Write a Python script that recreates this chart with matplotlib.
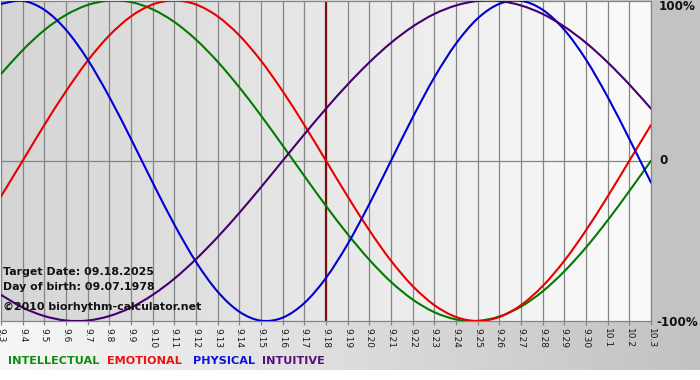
import numpy as np
import matplotlib
matplotlib.use("Agg")
import matplotlib.pyplot as plt
from matplotlib.colors import LinearSegmentedColormap
from matplotlib.path import Path
from matplotlib.patches import PathPatch

# ---- data ----
dates = ["9.3", "9.4", "9.5", "9.6", "9.7", "9.8", "9.9", "9.10", "9.11", "9.12",
         "9.13", "9.14", "9.15", "9.16", "9.17", "9.18", "9.19", "9.20", "9.21",
         "9.22", "9.23", "9.24", "9.25", "9.26", "9.27", "9.28", "9.29", "9.30",
         "10.1", "10.2", "10.3"]

intellectual = [0.541, 0.690, 0.815, 0.910, 0.972, 0.999, 0.990, 0.945, 0.866, 0.756,
                0.618, 0.458, 0.282, 0.095, -0.095, -0.282, -0.458, -0.618, -0.756,
                -0.866, -0.945, -0.990, -0.999, -0.972, -0.910, -0.815, -0.690, -0.541,
                -0.372, -0.189, 0.000]
emotional = [-0.223, 0.000, 0.223, 0.434, 0.624, 0.782, 0.901, 0.975, 1.000, 0.975,
             0.901, 0.782, 0.624, 0.434, 0.223, 0.000, -0.223, -0.434, -0.624,
             -0.782, -0.901, -0.975, -1.000, -0.975, -0.901, -0.782, -0.624, -0.434,
             -0.223, 0.000, 0.223]
physical = [0.979, 0.998, 0.942, 0.817, 0.631, 0.398, 0.136, -0.136, -0.398, -0.631,
            -0.817, -0.942, -0.998, -0.979, -0.888, -0.731, -0.520, -0.270, 0.000,
            0.270, 0.520, 0.731, 0.888, 0.979, 0.998, 0.942, 0.817, 0.631,
            0.398, 0.136, -0.136]
intuitive = [-0.837, -0.916, -0.969, -0.997, -0.997, -0.969, -0.916, -0.837, -0.736, -0.614,
             -0.476, -0.325, -0.165, 0.000, 0.165, 0.325, 0.476, 0.614, 0.736,
             0.837, 0.916, 0.969, 0.997, 0.997, 0.969, 0.916, 0.837, 0.736,
             0.614, 0.476, 0.325]

target_label = "9.18"
series_names = ["INTELLECTUAL", "EMOTIONAL", "PHYSICAL", "INTUITIVE"]
series_colors = ["#007a00", "#e80000", "#0000d0", "#44006e"]
text_colors = ["#118a11", "#ee1111", "#1111dd", "#55117a"]


def smooth_path(xs, ys):
    """Catmull-Rom style smoothed path through the given points (drawing style)."""
    xs = np.asarray(xs, float)
    ys = np.asarray(ys, float)
    px = np.concatenate([[xs[0]], xs, [xs[-1]]])
    py = np.concatenate([[ys[0]], ys, [ys[-1]]])
    verts = [(xs[0], ys[0])]
    codes = [Path.MOVETO]
    for i in range(1, len(px) - 2):
        c1 = (px[i] + (px[i + 1] - px[i - 1]) / 6, py[i] + (py[i + 1] - py[i - 1]) / 6)
        c2 = (px[i + 1] - (px[i + 2] - px[i]) / 6, py[i + 1] - (py[i + 2] - py[i]) / 6)
        verts += [c1, c2, (px[i + 1], py[i + 1])]
        codes += [Path.CURVE4] * 3
    return Path(verts, codes)


W, H = 700, 380
fig = plt.figure(figsize=(W / 100, H / 100), dpi=100)
fig.patch.set_facecolor("white")

# figure background gradient (light on left -> gray on right), top 370 px
bg = fig.add_axes([0, 10 / H, 1, 370 / H])
bg.set_axis_off()
grad = np.linspace(0, 1, 256).reshape(1, -1)
cm_bg = LinearSegmentedColormap.from_list("bg", ["#f7f7f7", "#c2c2c2"])
bg.imshow(grad, aspect="auto", cmap=cm_bg, extent=[0, 1, 0, 1])
bg.set_xlim(0, 1)
bg.set_ylim(0, 1)
bg.axvspan(651 / W, 1, ymin=(370 - 321) / 370, ymax=1, color="#c3c3c3", lw=0)

x = np.arange(len(dates))
left, right = 1 / W, 651 / W
bottom, top = 1 - 321 / H, 1 - 0.5 / H
ax = fig.add_axes([left, bottom, right - left, top - bottom])
ax.set_xlim(0, len(dates) - 1)
ax.set_ylim(-1, 1)

cm_plot = LinearSegmentedColormap.from_list("pl", ["#d5d5d5", "#fbfbfb"])
ax.imshow(grad, aspect="auto", cmap=cm_plot,
          extent=[0, len(dates) - 1, -1, 1], zorder=0)

for xi in x:
    ax.axvline(xi, color="#858585", lw=0.9, zorder=1)
ax.axhline(0, color="#858585", lw=0.9, zorder=1)

ti = dates.index(target_label)
ax.axvline(x[ti], color="#7a1212", lw=1.6, zorder=2)

for vals, col in zip([intellectual, emotional, physical, intuitive], series_colors):
    patch = PathPatch(smooth_path(x, vals), facecolor="none", edgecolor=col,
                      lw=1.5, zorder=3, capstyle="round", joinstyle="round")
    ax.add_patch(patch)

for s in ax.spines.values():
    s.set_color("#858585")
    s.set_linewidth(0.9)

ax.set_yticks([])
ax.set_xticks(x)
ax.set_xticklabels(dates, rotation=270, fontsize=6.5, color="#1a1a1a")
ax.tick_params(axis="x", length=3, width=0.9, color="#858585", pad=2)

# right labels
fig.text(659 / W, 1 - 7 / H, "100%", fontsize=8.6, fontweight="bold",
         ha="left", va="center", color="#111111")
fig.text(659 / W, 1 - 161 / H, "0", fontsize=8.6, fontweight="bold",
         ha="left", va="center", color="#111111")
fig.text(656 / W, 1 - 322 / H, "-100%", fontsize=8.6, fontweight="bold",
         ha="left", va="center", color="#111111")

# info text
info = ["Target Date: 09.18.2025", "Day of birth: 09.07.1978",
        "\u00a92010 biorhythm-calculator.net"]
ys = [272, 287, 307]
for t, yy in zip(info, ys):
    fig.text(3 / W, 1 - yy / H, t, fontsize=7.9, fontweight="bold",
             ha="left", va="center", color="#111111")

# legend text
lx = [8, 107, 193, 262]
for name, col, xx in zip(series_names, text_colors, lx):
    fig.text(xx / W, 1 - 361 / H, name, fontsize=8.1, fontweight="bold",
             ha="left", va="center", color=col)

fig.savefig("out.png", dpi=100)
